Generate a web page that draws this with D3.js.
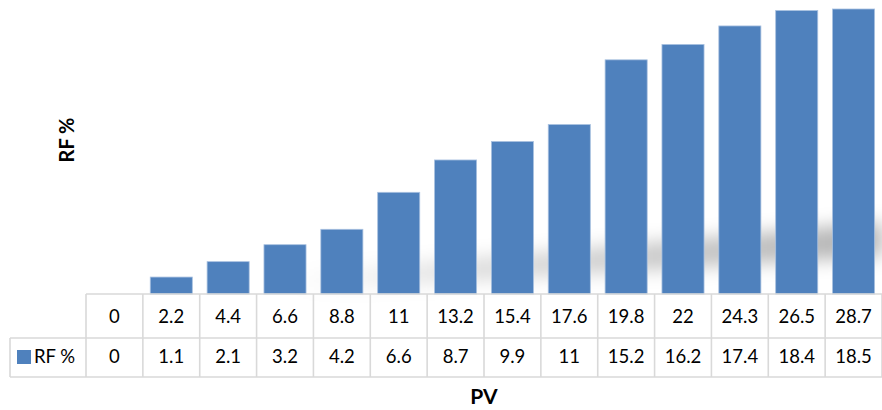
<!DOCTYPE html>
<html lang="en">
<head>
<meta charset="utf-8">
<script src="https://d3js.org/d3.v7.min.js"></script>
<style type="text/css">
body { margin: 0; background: #fff; }
text { font-family: Lato, "Open Sans", sans-serif; fill: #000; }
</style>
</head>
<body>
<script type="text/javascript">

// chart data
var pvLabels = ["0", "2.2", "4.4", "6.6", "8.8", "11", "13.2", "15.4", "17.6", "19.8", "22", "24.3", "26.5", "28.7"];
var rfValues = [0, 1.1, 2.1, 3.2, 4.2, 6.6, 8.7, 9.9, 11, 15.2, 16.2, 17.4, 18.4, 18.5];
var rfLabels = ["0", "1.1", "2.1", "3.2", "4.2", "6.6", "8.7", "9.9", "11", "15.2", "16.2", "17.4", "18.4", "18.5"];
var seriesName = "RF %";

var width = 882, height = 410;
var left = 86, right = 882, base = 294;
var row1 = 338, row2 = 377;

var svg = d3.select("body").append("svg")
    .attr("width", width)
    .attr("height", height);

var x = d3.scaleBand()
    .domain(pvLabels)
    .range([left, right])
    .paddingInner(0.26)
    .paddingOuter(0.13);

var y = d3.scaleLinear()
    .domain([0, 18.5])
    .range([base, 9]);

// soft shadow behind the bars
var defs = svg.append("defs");
defs.append("filter").attr("id", "blur")
    .attr("x", "-20%").attr("y", "-50%").attr("width", "140%").attr("height", "200%")
  .append("feGaussianBlur").attr("stdDeviation", 9);
var grad = defs.append("linearGradient").attr("id", "shade");
grad.append("stop").attr("offset", "0%").attr("stop-color", "#000").attr("stop-opacity", 0);
grad.append("stop").attr("offset", "30%").attr("stop-color", "#000").attr("stop-opacity", 0.13);
grad.append("stop").attr("offset", "100%").attr("stop-color", "#000").attr("stop-opacity", 0.3);

svg.append("polygon")
    .attr("points", "290,292 882,256 882,222 290,274")
    .attr("fill", "url(#shade)")
    .attr("filter", "url(#blur)");

// bars
svg.selectAll("rect.bar")
    .data(rfValues)
    .enter()
    .append("rect")
    .attr("class", "bar")
    .attr("x", function(d, i) { return x(pvLabels[i]); })
    .attr("y", function(d) { return y(d); })
    .attr("width", x.bandwidth())
    .attr("height", function(d) { return base - y(d); })
    .style("fill", "#4f81bd")
    .style("stroke", "#a9c1e0")
    .style("stroke-width", 0.8)
    .style("display", function(d) { return d > 0 ? null : "none"; });

// data table grid
var grid = svg.append("g")
    .style("stroke", "#d9d9d9")
    .style("stroke-width", 1.6)
    .style("fill", "none");

grid.append("line").attr("x1", left).attr("x2", right).attr("y1", base).attr("y2", base);
grid.append("line").attr("x1", 10).attr("x2", right).attr("y1", row1).attr("y2", row1);
grid.append("line").attr("x1", 10).attr("x2", right).attr("y1", row2).attr("y2", row2);
grid.append("line").attr("x1", 10).attr("x2", 10).attr("y1", row1).attr("y2", row2);

// column borders
d3.range(pvLabels.length + 1).forEach(function(i) {
  var xe = left + i * x.step();
  grid.append("line").attr("x1", xe).attr("x2", xe).attr("y1", base).attr("y2", row2);
});

// table text
svg.selectAll("text.pv")
    .data(pvLabels)
    .enter()
    .append("text")
    .attr("class", "pv")
    .attr("x", function(d) { return x(d) + x.bandwidth() / 2; })
    .attr("y", 317)
    .attr("dy", "0.35em")
    .attr("text-anchor", "middle")
    .style("font-size", "18.5px")
    .text(function(d) { return d; });

svg.selectAll("text.rf")
    .data(rfLabels)
    .enter()
    .append("text")
    .attr("class", "rf")
    .attr("x", function(d, i) { return x(pvLabels[i]) + x.bandwidth() / 2; })
    .attr("y", 357)
    .attr("dy", "0.35em")
    .attr("text-anchor", "middle")
    .style("font-size", "18.5px")
    .text(function(d) { return d; });

// legend key in table
svg.append("rect")
    .attr("x", 17).attr("y", 350)
    .attr("width", 14).attr("height", 14)
    .style("fill", "#4f81bd");
svg.append("text")
    .attr("x", 34).attr("y", 357)
    .attr("dy", "0.35em")
    .style("font-size", "18.5px")
    .text(seriesName);

// axis titles
svg.append("text")
    .attr("x", (left + right) / 2)
    .attr("y", 397)
    .attr("dy", "0.35em")
    .attr("text-anchor", "middle")
    .style("font-size", "21px")
    .style("font-weight", "bold")
    .text("PV");

svg.append("text")
    .attr("transform", "translate(67,140) rotate(-90)")
    .attr("dy", "0.35em")
    .attr("text-anchor", "middle")
    .style("font-size", "20px")
    .style("font-weight", "bold")
    .text(seriesName);

</script>
</body>
</html>
